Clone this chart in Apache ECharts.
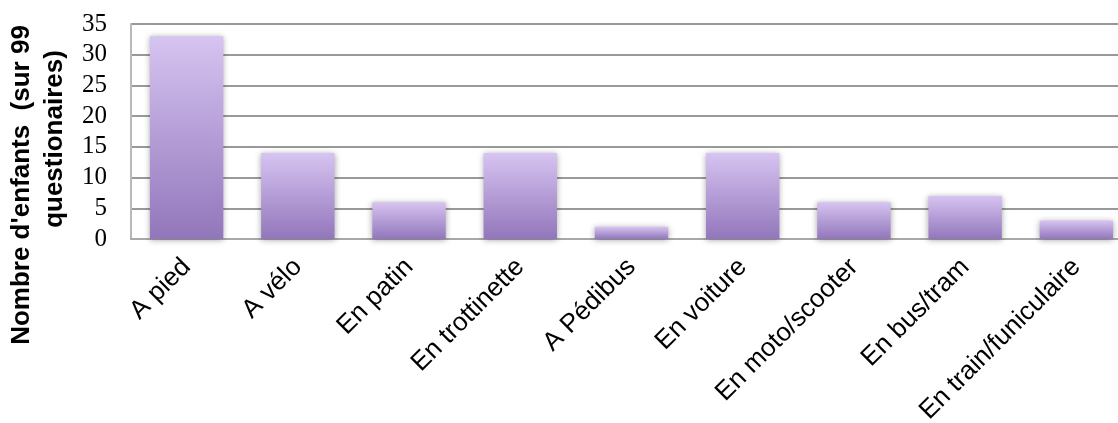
<!DOCTYPE html>
<html>
<head>
<meta charset="utf-8">
<script src="https://cdn.jsdelivr.net/npm/echarts@6/dist/echarts.min.js"></script>
<style>
html,body{margin:0;padding:0;background:#fff;}
#chart{width:1118px;height:423px;}
</style>
</head>
<body>
<div id="chart"></div>
<script>
var categories = ["A pied", "A vélo", "En patin", "En trottinette", "A Pédibus", "En voiture", "En moto/scooter", "En bus/tram", "En train/funiculaire"];
var values = [33, 14, 6, 14, 2, 14, 6, 7, 3];
var yTitleLine1 = "Nombre d'enfants  (sur 99";
var yTitleLine2 = "questionaires)";

var chart = echarts.init(document.getElementById('chart'));
chart.setOption({
  animation: false,
  grid: {left: 131, top: 24, right: -14, bottom: 184, outerBoundsMode: 'none', containLabel: false},
  xAxis: {
    type: 'category',
    data: categories,
    axisLine: {lineStyle: {color: '#a8a8a8', width: 2}},
    axisTick: {show: false},
    axisLabel: {
      rotate: 45, interval: 0, margin: 24,
      fontFamily: 'Liberation Sans, Arial, sans-serif', fontSize: 26, color: '#000'
    }
  },
  yAxis: {
    type: 'value', min: 0, max: 35, interval: 5,
    axisLine: {show: true, lineStyle: {color: '#b8b8b8', width: 2}},
    axisTick: {show: false},
    axisLabel: {fontFamily: 'Liberation Serif, Times New Roman, serif', fontSize: 25, color: '#000', margin: 24},
    splitLine: {lineStyle: {color: '#999', width: 2}}
  },
  graphic: [
    {type: 'text', x: 22, y: 185, rotation: Math.PI / 2,
     style: {text: yTitleLine1, fontFamily: 'Liberation Sans, Arial, sans-serif', fontWeight: 'bold', fontSize: 26, fill: '#000', align: 'center', verticalAlign: 'middle'}},
    {type: 'text', x: 55, y: 139, rotation: Math.PI / 2,
     style: {text: yTitleLine2, fontFamily: 'Liberation Sans, Arial, sans-serif', fontWeight: 'bold', fontSize: 26, fill: '#000', align: 'center', verticalAlign: 'middle'}}
  ],
  series: [{
    type: 'bar',
    data: values,
    barCategoryGap: '34%',
    itemStyle: {
      color: new echarts.graphic.LinearGradient(0, 0, 0, 1, [
        {offset: 0, color: '#d6c4f1'},
        {offset: 1, color: '#9276bb'}
      ]),
      shadowBlur: 6,
      shadowColor: 'rgba(0,0,0,0.35)',
      shadowOffsetY: 1
    }
  }]
});
</script>
</body>
</html>
